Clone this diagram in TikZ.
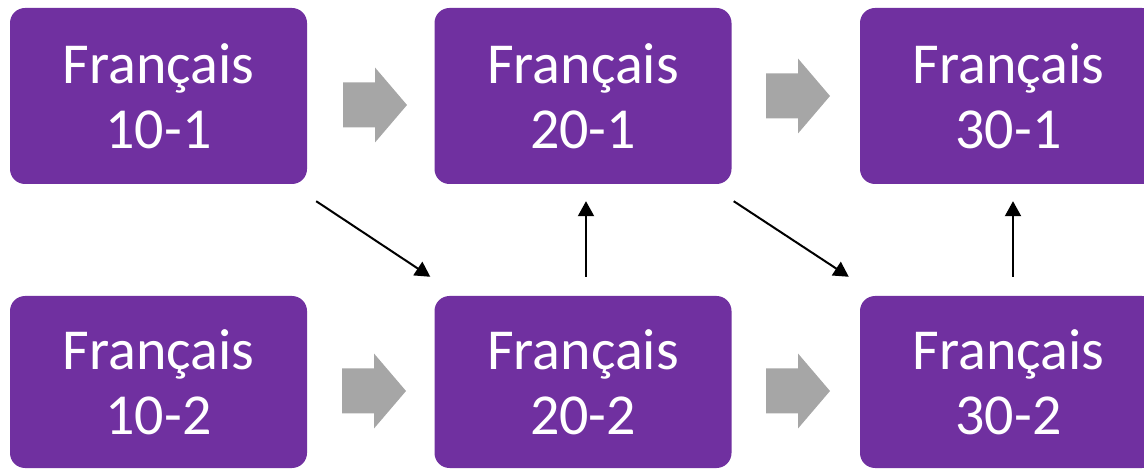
\documentclass[tikz,border=0pt]{standalone}
\usepackage{fontspec}
\setmainfont{Carlito}
\usetikzlibrary{arrows.meta,calc}
\definecolor{boxpurple}{HTML}{7030A0}
\definecolor{arrowgrey}{HTML}{A6A6A6}
\tikzset{
  box/.style={fill=boxpurple, draw=none, rounded corners=15pt, text=white,
    align=center, inner sep=0pt, minimum width=297pt,
    font=\fontsize{58}{65}\selectfont},
  toprow/.style={box, minimum height=176pt},
  botrow/.style={box, minimum height=172pt},
  conn/.style={draw=black, line width=2pt, -{Triangle[width=16pt,length=15pt]}},
  garrow/.style={fill=arrowgrey, draw=none}
}
\newcommand\greyarrow[2]{%
  \fill[garrow] (#1,#2) ++(-32,-22.5) -- ++(32,0) -- ++(0,-15) -- ++(32,37.5)
    -- ++(-32,37.5) -- ++(0,-15) -- ++(-32,0) -- cycle;}
\begin{document}
\begin{tikzpicture}[x=1pt,y=-1pt]
  \useasboundingbox (0,0) rectangle (1144,470);
  \clip (0,0) rectangle (1144,470);
  % boxes
  \node[toprow] (A1) at (158.5,96) {Français\\10-1};
  \node[toprow] (B1) at (583,96) {Français\\20-1};
  \node[toprow] (C1) at (1008.5,96) {Français\\30-1};
  \node[botrow] (A2) at (158.5,382) {Français\\10-2};
  \node[botrow] (B2) at (583,382) {Français\\20-2};
  \node[botrow] (C2) at (1008.5,382) {Français\\30-2};
  % grey block arrows
  \greyarrow{375}{105}
  \greyarrow{798}{96}
  \greyarrow{374}{391}
  \greyarrow{798}{391}
  % connectors
  \draw[conn] ($(A1.south east)+(9,17)$) -- ($(B2.north west)+(-4,-19)$);
  \draw[conn] ($(B2.north)+(3,-19)$) -- ($(B1.south)+(3,17)$);
  \draw[conn] ($(B1.south east)+(2,17)$) -- ($(C2.north west)+(-11,-19)$);
  \draw[conn] ($(C2.north)+(4.5,-19)$) -- ($(C1.south)+(4.5,17)$);
\end{tikzpicture}
\end{document}
